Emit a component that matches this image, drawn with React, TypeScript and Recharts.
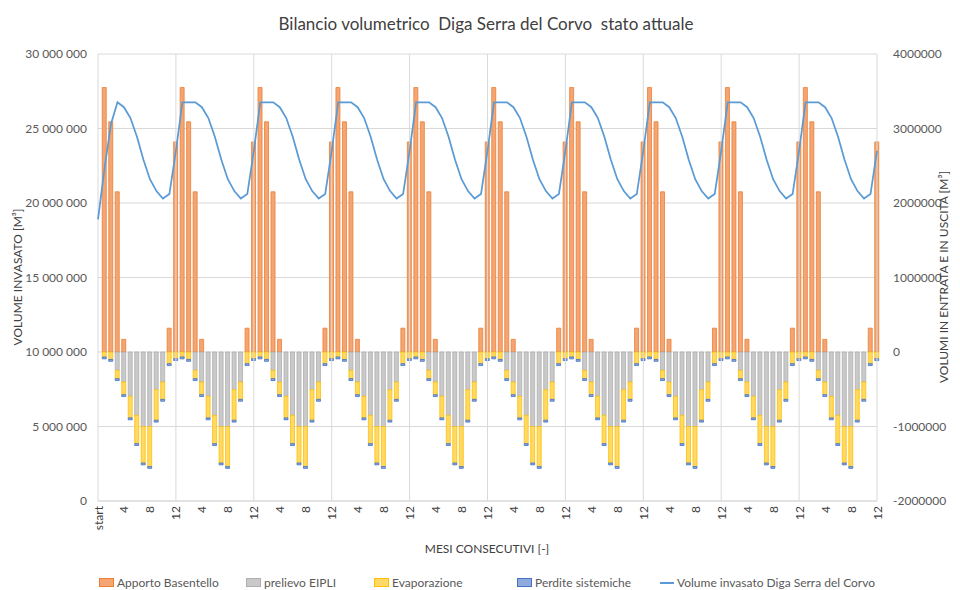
import React from 'react';
import { ComposedChart, Bar, Line, XAxis, YAxis, CartesianGrid, ReferenceLine } from 'recharts';

// Monthly pattern (months 1..12)
const monthNames = ['1', '2', '3', '4', '5', '6', '7', '8', '9', '10', '11', '12'];
const apportoBasentello = [3550000, 3090000, 2150000, 170000, 0, 0, 0, 0, 0, 0, 320000, 2820000];
const prelievoEIPLI = [0, 0, -246000, -403000, -595000, -850000, -1000000, -1000000, -506000, -403000, 0, 0];
const evaporazione = [-67000, -100000, -112000, -170000, -290000, -380000, -490000, -537000, -410000, -233000, -157000, -90000];
const perditeSistemiche = [-25000, -25000, -25000, -25000, -25000, -25000, -25000, -25000, -25000, -25000, -25000, -25000];

const volumeStart = 18900000;
const volumeFirstYear = [22300000, 25300000, 26760000, 26430000, 25700000, 24450000, 22900000, 21600000, 20800000, 20300000, 20600000, 23500000];
const volumeOtherYears = [26760000, 26760000, 26760000, 26430000, 25700000, 24450000, 22900000, 21600000, 20800000, 20300000, 20600000, 23500000];
const years = 10;

const leftTicks = [0, 5000000, 10000000, 15000000, 20000000, 25000000, 30000000];
const rightTicks = [-2000000, -1000000, 0, 1000000, 2000000, 3000000, 4000000];

// Build the table
const xLabels: string[] = ['start'];
const data: any[] = [{ idx: 0, volume: volumeStart }];
for (let y = 0; y < years; y++) {
  for (let m = 0; m < 12; m++) {
    const idx = y * 12 + m + 1;
    xLabels.push(monthNames[m]);
    data.push({
      idx,
      apporto: apportoBasentello[m],
      prelievo: prelievoEIPLI[m],
      evaporazione: evaporazione[m],
      perdite: perditeSistemiche[m],
      volume: y === 0 ? volumeFirstYear[m] : volumeOtherYears[m],
    });
  }
}
const xTicks = xLabels.map((_, i) => i).filter((i) => i % 4 === 0);
const yearLines = Array.from({ length: years + 1 }, (_, i) => i * 12);

const FONT = 'Lato, "Open Sans", sans-serif';
const TXT = '#595959';

const fmtLeft = (v: number) => String(Math.round(v)).replace(/\B(?=(\d{3})+(?!\d))/g, ' ');

const XTick = (props: any) => {
  const { x, y, payload } = props;
  return (
    <text
      x={x}
      y={y}
      transform={`rotate(-90 ${x} ${y})`}
      textAnchor="end"
      dominantBaseline="central"
      fontSize={12}
      fontFamily={FONT}
      fill="#404040"
    >
      {xLabels[payload.value]}
    </text>
  );
};

const legendItems = [
  { label: 'Apporto Basentello', fill: '#F4A574', stroke: '#ED7D31', type: 'rect', left: 91 },
  { label: 'prelievo EIPLI', fill: '#C9C9C9', stroke: '#AFAFAF', type: 'rect', left: 238 },
  { label: 'Evaporazione', fill: '#FFD966', stroke: '#FFC000', type: 'rect', left: 366 },
  { label: 'Perdite sistemiche', fill: '#8FAADC', stroke: '#4472C4', type: 'rect', left: 509 },
  { label: 'Volume invasato Diga Serra del Corvo', fill: '#5B9BD5', stroke: '#5B9BD5', type: 'line', left: 652 },
];

const vLabelStyle = (centerX: number, centerY: number): React.CSSProperties => ({
  position: 'absolute',
  left: centerX - 8,
  top: centerY,
  width: 16,
  transform: 'translateY(-50%) rotate(180deg)',
  writingMode: 'vertical-rl',
  whiteSpace: 'nowrap',
  fontSize: 12,
  lineHeight: '16px',
  color: '#404040',
  display: 'flex',
  alignItems: 'center',
});

export default function App() {
  return (
    <div style={{ position: 'relative', width: 944, height: 582, fontFamily: FONT }}>
      <div
        style={{
          position: 'absolute',
          left: 478,
          top: 15,
          transform: 'translate(-50%, -50%)',
          whiteSpace: 'pre',
          fontSize: 17,
          color: '#404040',
        }}
      >
        {'Bilancio volumetrico  Diga Serra del Corvo  stato attuale'}
      </div>
      <ComposedChart
        width={944}
        height={560}
        data={data}
        stackOffset="sign"
        margin={{ top: 46, right: 10, bottom: 17, left: 10 }}
      >
        <CartesianGrid yAxisId="left" vertical={false} stroke="#D9D9D9" />
        <XAxis
          dataKey="idx"
          type="number"
          domain={[0, 120]}
          ticks={xTicks}
          interval={0}
          tick={<XTick />}
          tickSize={0}
          tickMargin={5}
          height={50}
          axisLine={{ stroke: '#D9D9D9' }}
          tickLine={false}
        />
        <YAxis
          yAxisId="left"
          orientation="left"
          domain={[0, 30000000]}
          ticks={leftTicks}
          tickFormatter={fmtLeft}
          width={80}
          axisLine={false}
          tickLine={false}
          tickSize={0}
          tickMargin={11}
          tick={{ fontSize: 12, fill: TXT, fontFamily: FONT }}
        />
        <YAxis
          yAxisId="right"
          orientation="right"
          domain={[-2000000, 4000000]}
          ticks={rightTicks}
          width={65}
          axisLine={false}
          tickLine={false}
          tickSize={0}
          tickMargin={16}
          tick={{ fontSize: 12, fill: TXT, fontFamily: FONT, textAnchor: 'start' }}
        />
        {yearLines.map((x) => (
          <ReferenceLine key={x} x={x} yAxisId="left" stroke="#D9D9D9" />
        ))}
        <Bar dataKey="apporto" name="Apporto Basentello" stackId="a" yAxisId="right" barSize={4} fill="#F4A574" stroke="#ED7D31" strokeWidth={0.8} isAnimationActive={false} />
        <Bar dataKey="prelievo" name="prelievo EIPLI" stackId="a" yAxisId="right" barSize={4} fill="#C9C9C9" stroke="#AFAFAF" strokeWidth={0.8} isAnimationActive={false} />
        <Bar dataKey="evaporazione" name="Evaporazione" stackId="a" yAxisId="right" barSize={4} fill="#FFD966" stroke="#FFC000" strokeWidth={0.8} isAnimationActive={false} />
        <Bar dataKey="perdite" name="Perdite sistemiche" stackId="a" yAxisId="right" barSize={4} fill="#8FAADC" stroke="#4472C4" strokeWidth={0.8} isAnimationActive={false} />
        <Line dataKey="volume" name="Volume invasato Diga Serra del Corvo" yAxisId="left" type="linear" stroke="#5B9BD5" strokeWidth={1.75} dot={false} isAnimationActive={false} />
      </ComposedChart>
      <div style={vLabelStyle(10, 269)}>VOLUME INVASATO [M³]</div>
      <div style={vLabelStyle(936, 269)}>VOLUMI IN ENTRATA E IN USCITA [M³]</div>
      <div
        style={{
          position: 'absolute',
          left: 479,
          top: 540,
          transform: 'translate(-50%, -50%)',
          whiteSpace: 'nowrap',
          fontSize: 12,
          color: '#404040',
        }}
      >
        MESI CONSECUTIVI [-]
      </div>
      {legendItems.map((it) => (
        <div
          key={it.label}
          style={{
            position: 'absolute',
            left: it.left,
            top: 567,
            height: 15,
            display: 'flex',
            alignItems: 'center',
            whiteSpace: 'nowrap',
            fontSize: 12,
            color: TXT,
          }}
        >
          {it.type === 'rect' ? (
            <span style={{ display: 'inline-block', width: 13, height: 7, background: it.fill, border: `1px solid ${it.stroke}`, marginRight: 3 }} />
          ) : (
            <span style={{ display: 'inline-block', width: 14, height: 2, background: it.stroke, marginRight: 3 }} />
          )}
          {it.label}
        </div>
      ))}
    </div>
  );
}
